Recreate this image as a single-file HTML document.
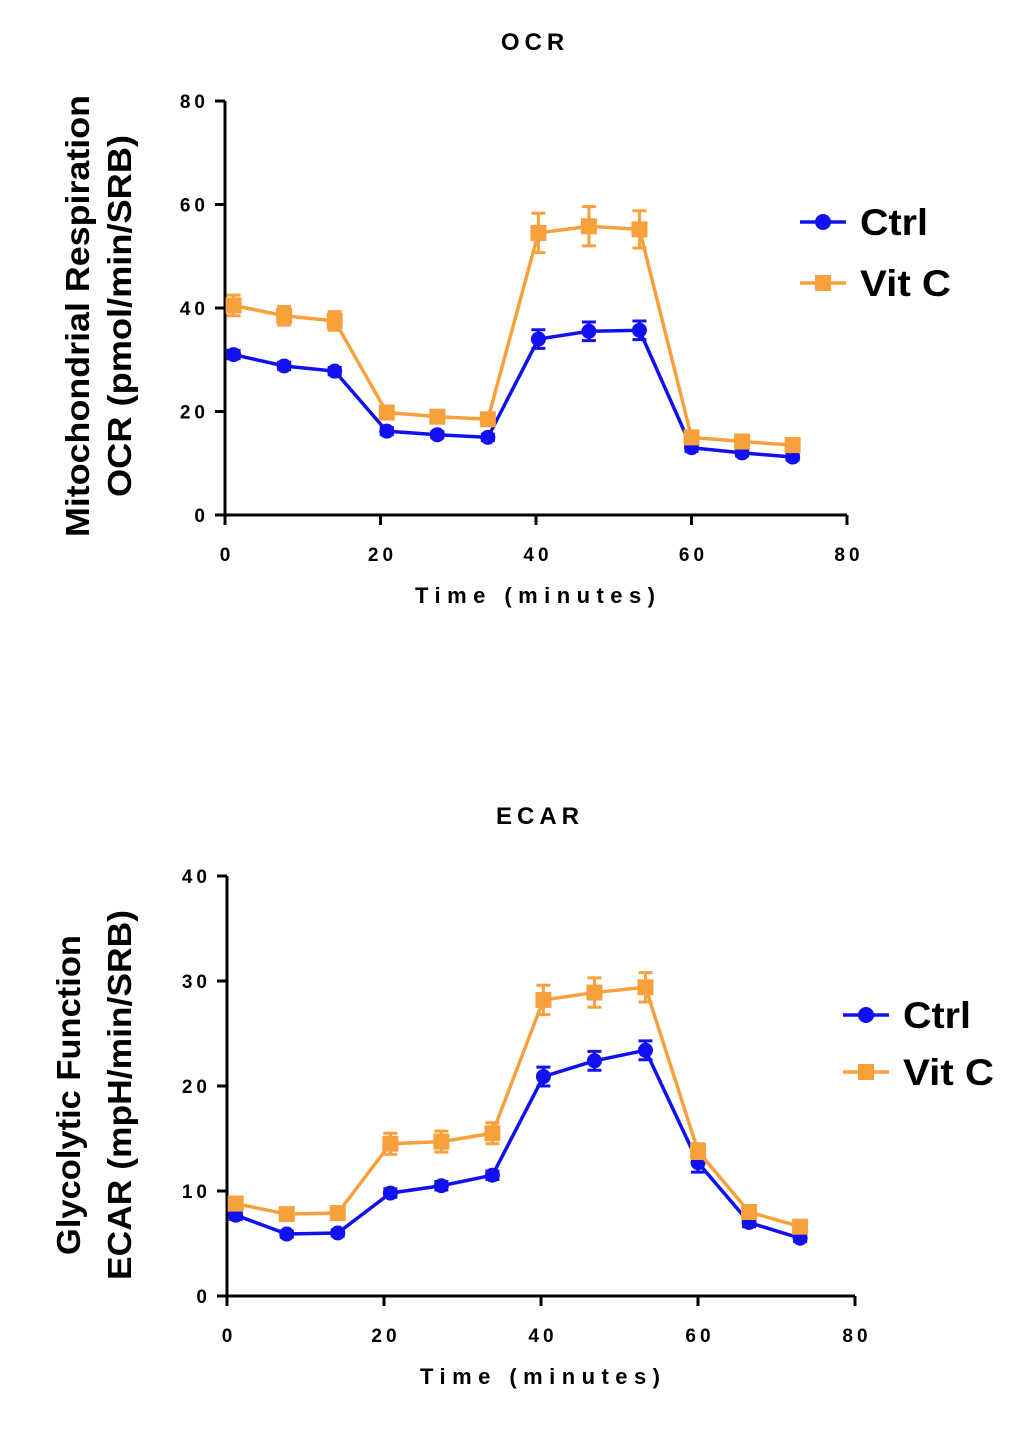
<!DOCTYPE html>
<html><head><meta charset="utf-8"><style>
body{margin:0;background:#fff;}
svg text{font-family:"Liberation Sans",sans-serif;font-weight:bold;}
</style></head><body>
<svg id="svg" width="1020" height="1435" xmlns="http://www.w3.org/2000/svg"></svg>
<script>
const times = [1.3, 7.8, 14.3, 21, 27.5, 34, 40.5, 47, 53.5, 60.2, 66.7, 73.2];
const ocrCtrl = [31, 28.8, 27.8, 16.2, 15.5, 15, 34, 35.5, 35.7, 13, 12, 11.2];
const ocrCtrlErr = [0.8, 0.7, 0.7, 0.7, 0.6, 0.6, 1.8, 1.8, 1.8, 0.7, 0.6, 0.6];
const ocrVit = [40.5, 38.5, 37.5, 19.8, 19, 18.5, 54.5, 55.8, 55.2, 15, 14.2, 13.5];
const ocrVitErr = [2, 1.8, 1.8, 0.9, 0.8, 0.8, 3.8, 3.8, 3.6, 0.8, 0.7, 0.7];
const ecarCtrl = [7.7, 5.9, 6, 9.8, 10.5, 11.5, 20.9, 22.4, 23.4, 12.7, 7.0, 5.5];
const ecarCtrlErr = [0.4, 0.3, 0.3, 0.4, 0.4, 0.4, 0.9, 0.9, 0.9, 0.9, 0.4, 0.3];
const ecarVit = [8.8, 7.8, 7.9, 14.5, 14.7, 15.5, 28.2, 28.9, 29.4, 13.8, 8.0, 6.6];
const ecarVitErr = [0.6, 0.5, 0.5, 1.0, 1.0, 1.0, 1.4, 1.4, 1.4, 0.7, 0.5, 0.5];
const xTicks = [0, 20, 40, 60, 80];
const ocrYTicks = [0, 20, 40, 60, 80];
const ecarYTicks = [0, 10, 20, 30, 40];

const NS = "http://www.w3.org/2000/svg";
const svg = document.getElementById('svg');
const BLUE = "#1010f0", ORANGE = "#f8a13c";
function mk(tag, attrs, parent, text){
  const e = document.createElementNS(NS, tag);
  for (const k in attrs) e.setAttribute(k, attrs[k]);
  if (text !== undefined) e.textContent = text;
  (parent || svg).appendChild(e);
  return e;
}
function chart(cfg){
  const g = mk('g', {});
  
  
  const sx = v => cfg.x0 + (v - 0) / 80 * (cfg.x1 - cfg.x0) - 1.5;
  const sy = v => cfg.y0 - v / cfg.ymax * (cfg.y0 - cfg.y1);
  const t = mk('text', {x: cfg.titleX, y: cfg.titleY, 'font-size': 24, 'text-anchor': 'middle', 'letter-spacing': 5}, g, cfg.title);
  
  
  const ax = mk('path', {d: `M${cfg.x0},${cfg.y1} V${cfg.y0} H${cfg.x1}`, stroke: '#000', 'stroke-width': 3, fill: 'none'}, g);
  
  
  xTicks.forEach(v => {
    const x = cfg.x0 + v / 80 * (cfg.x1 - cfg.x0);
    mk('line', {x1: x, x2: x, y1: cfg.y0, y2: cfg.y0 + 10, stroke: '#000', 'stroke-width': 3}, g);
    const l = mk('text', {x: x + 2, y: cfg.y0 + 46, 'font-size': 19, 'text-anchor': 'middle', 'letter-spacing': 4}, g, v);
    
    
  });
  cfg.yTicks.forEach(v => {
    mk('line', {x1: cfg.x0 - 10, x2: cfg.x0, y1: sy(v), y2: sy(v), stroke: '#000', 'stroke-width': 3}, g);
    const l = mk('text', {x: cfg.x0 - 16, y: sy(v) + 7, 'font-size': 19, 'text-anchor': 'end', 'letter-spacing': 4}, g, v);
    
    
  });
  const xl = mk('text', {x: cfg.xlabX, y: cfg.y0 + 88, 'font-size': 22, 'text-anchor': 'middle', textLength: 240, lengthAdjust: 'spacing'}, g, 'Time (minutes)');
  
  
  cfg.ylab.forEach((s, i) => {
    const yl = mk('text', {transform: `translate(${cfg.ylabX[i]},${cfg.ylabCY}) rotate(-90)`, 'font-size': 33, 'text-anchor': 'middle', textLength: cfg.ylabLen[i], lengthAdjust: 'spacingAndGlyphs'}, g, s);
    
    
  });
  cfg.series.forEach(s => {
    const sg = mk('g', {}, g);
    
    
    mk('polyline', {points: times.map((tv, i) => `${sx(tv)},${sy(s.vals[i])}`).join(' '), fill: 'none', stroke: s.color, 'stroke-width': 3.5}, sg);
    times.forEach((tv, i) => {
      const x = sx(tv), ya = sy(s.vals[i] + s.err[i]), yb = sy(s.vals[i] - s.err[i]);
      mk('path', {d: `M${x},${ya} V${yb} M${x - 7},${ya} H${x + 7} M${x - 7},${yb} H${x + 7}`, stroke: s.color, 'stroke-width': 3, fill: 'none'}, sg);
      let m;
      if (s.shape === 'c') m = mk('circle', {cx: x, cy: sy(s.vals[i]), r: 7.5, fill: s.color}, sg);
      else m = mk('rect', {x: x - 8, y: sy(s.vals[i]) - 8, width: 16, height: 16, fill: s.color}, sg);
      
      
    });
  });
  cfg.series.forEach((s, i) => {
    const lg = mk('g', {}, g);
    
    
    const y = cfg.legY[i];
    mk('line', {x1: cfg.legX, x2: cfg.legX + 46, y1: y, y2: y, stroke: s.color, 'stroke-width': 3.5}, lg);
    if (s.shape === 'c') mk('circle', {cx: cfg.legX + 23, cy: y, r: 8, fill: s.color}, lg);
    else mk('rect', {x: cfg.legX + 15, y: y - 8, width: 16, height: 16, fill: s.color}, lg);
    mk('text', {x: cfg.legX + 60, y: y + 13, 'font-size': 37, textLength: s.label === 'Ctrl' ? 68 : 91, lengthAdjust: 'spacingAndGlyphs'}, lg, s.label);
  });
}
chart({name: 'ocr-chart', title: 'OCR', titleX: 535, titleY: 50, x0: 225, x1: 847, y0: 515, y1: 101, ymax: 80, yTicks: ocrYTicks,
  xlabX: 535, ylab: ['Mitochondrial Respiration', 'OCR (pmol/min/SRB)'], ylabX: [89, 131], ylabLen: [442, 362], ylabCY: 316,
  legX: 800, legY: [222, 283],
  series: [{key: 'ctrl', label: 'Ctrl', vals: ocrCtrl, err: ocrCtrlErr, color: BLUE, shape: 'c'},
           {key: 'vitc', label: 'Vit C', vals: ocrVit, err: ocrVitErr, color: ORANGE, shape: 's'}]});
chart({name: 'ecar-chart', title: 'ECAR', titleX: 540, titleY: 824, x0: 227, x1: 855, y0: 1296, y1: 876, ymax: 40, yTicks: ecarYTicks,
  xlabX: 540, ylab: ['Glycolytic Function', 'ECAR (mpH/min/SRB)'], ylabX: [80, 131], ylabLen: [320, 370], ylabCY: 1095,
  legX: 843, legY: [1015, 1072],
  series: [{key: 'ctrl', label: 'Ctrl', vals: ecarCtrl, err: ecarCtrlErr, color: BLUE, shape: 'c'},
           {key: 'vitc', label: 'Vit C', vals: ecarVit, err: ecarVitErr, color: ORANGE, shape: 's'}]});
</script>
</body></html>
